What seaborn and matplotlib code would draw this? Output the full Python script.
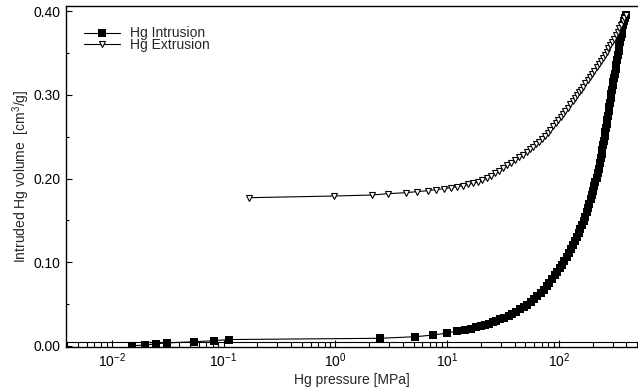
import matplotlib
matplotlib.use("Agg")
import matplotlib.pyplot as plt
from matplotlib.ticker import MultipleLocator, FormatStrFormatter, LogLocator
import seaborn as sns

# Mercury porosimetry: intrusion branch (pressure in MPa, volume in cm3/g)
intrusion_pressure = [
    0.0153, 0.0199, 0.0251, 0.0311, 0.0547, 0.0814, 0.1125,
    2.49, 5.2, 7.5, 9.93, 12.1, 14.3, 16.4,
    18.2, 20.0, 21.8, 23.6, 25.5, 27.4, 29.8, 32.4, 35.3, 38.2,
    41.3, 44.7, 48.3, 52.0, 55.7, 59.7, 64.0, 68.5, 73.3, 77.4,
    81.7, 86.3, 91.0, 96.2, 101.4, 106.2, 111.2, 116.4, 121.9, 127.6,
    133.7, 138.7, 143.9, 149.3, 154.9, 160.7, 166.7, 171.4, 176.2, 181.1,
    186.2, 191.4, 196.8, 201.4, 206.1, 210.9, 215.8, 220.8, 225.9, 231.7,
    235.5, 239.3, 243.2, 247.2, 251.2, 255.9, 259.4, 263.0, 266.7, 270.4,
    274.2, 278.0, 281.8, 285.8, 289.7, 293.8, 297.8, 302.0, 305.5, 309.0,
    314.1, 319.2, 324.3, 329.6, 335.0, 340.4, 345.9, 351.6, 357.3, 361.4,
    368.1, 375.0, 381.9, 389.0, 395.0,
]
intrusion_volume = [
    0.0004, 0.0011, 0.0027, 0.0037, 0.0051, 0.0063, 0.0077,
    0.0092, 0.0111, 0.0131, 0.0155, 0.0176, 0.0191, 0.0207,
    0.0228, 0.0243, 0.0256, 0.0268, 0.0283, 0.0301, 0.0320, 0.0340, 0.0360, 0.0382,
    0.0409, 0.0437, 0.0464, 0.0490, 0.0526, 0.0563, 0.0599, 0.0635, 0.0670, 0.0714,
    0.0757, 0.0801, 0.0843, 0.0888, 0.0930, 0.0973, 0.1020, 0.1067, 0.1113, 0.1160,
    0.1207, 0.1250, 0.1299, 0.1348, 0.1396, 0.1445, 0.1494, 0.1543, 0.1595, 0.1646,
    0.1698, 0.1750, 0.1801, 0.1852, 0.1905, 0.1958, 0.2011, 0.2064, 0.2117, 0.2191,
    0.2242, 0.2293, 0.2345, 0.2396, 0.2447, 0.2508, 0.2556, 0.2604, 0.2652, 0.2700,
    0.2752, 0.2803, 0.2855, 0.2906, 0.2958, 0.3010, 0.3061, 0.3113, 0.3155, 0.3195,
    0.3250, 0.3305, 0.3361, 0.3416, 0.3471, 0.3526, 0.3581, 0.3636, 0.3691, 0.3730,
    0.3780, 0.3831, 0.3881, 0.3920, 0.3950,
]

# Extrusion branch
extrusion_pressure = [
    0.170, 0.966, 2.13, 2.94, 4.30, 5.31, 6.70, 7.86, 9.33, 10.7,
    12.3, 13.8, 15.4, 17.1, 18.8, 20.6, 22.5, 24.4, 26.5, 28.8,
    31.3, 34.0, 37.0, 40.2, 43.7, 47.4, 52.0, 55.3, 58.9, 62.7,
    66.7, 70.8, 74.8, 79.1, 83.6, 88.3, 93.3, 98.6, 103.5, 108.6,
    114.0, 119.7, 125.6, 131.8, 138.4, 145.2, 150.7, 156.3, 163.7, 171.4,
    179.5, 187.9, 196.8, 206.1, 215.8, 225.9, 236.0, 245.5, 255.3, 265.5,
    276.1, 287.1, 298.5, 310.5, 321.4, 332.7, 344.4, 356.5, 369.0, 382.0,
    395.0,
]
extrusion_volume = [
    0.1771, 0.1791, 0.1803, 0.1819, 0.1831, 0.1843, 0.1855, 0.1867, 0.1879, 0.1891,
    0.1903, 0.1915, 0.1931, 0.1943, 0.1958, 0.1979, 0.2002, 0.2033, 0.2064, 0.2095,
    0.2126, 0.2157, 0.2188, 0.2220, 0.2252, 0.2284, 0.2320, 0.2350, 0.2380, 0.2410,
    0.2441, 0.2470, 0.2508, 0.2546, 0.2584, 0.2622, 0.2660, 0.2698, 0.2730, 0.2769,
    0.2807, 0.2846, 0.2885, 0.2924, 0.2962, 0.3001, 0.3030, 0.3060, 0.3098, 0.3136,
    0.3174, 0.3212, 0.3250, 0.3288, 0.3326, 0.3364, 0.3400, 0.3439, 0.3477, 0.3516,
    0.3554, 0.3593, 0.3631, 0.3670, 0.3711, 0.3753, 0.3794, 0.3836, 0.3877, 0.3919,
    0.3950,
]

series_labels = ["Hg Intrusion", "Hg Extrusion"]
x_label = "Hg pressure [MPa]"
y_label = "Intruded Hg volume  [cm$^3$/g]"

sns.set_style("ticks")
plt.rcParams["font.family"] = ["Liberation Sans", "DejaVu Sans"]
plt.rcParams["font.size"] = 10
plt.rcParams["mathtext.fontset"] = "custom"
plt.rcParams["mathtext.rm"] = "Liberation Sans"
plt.rcParams["mathtext.it"] = "Liberation Sans:italic"
plt.rcParams["mathtext.default"] = "regular"

fig = plt.figure(figsize=(6.38, 3.87), dpi=100)
ax = fig.add_axes([66 / 638, 40 / 387, 572 / 638, 341 / 387])

sns.lineplot(x=intrusion_pressure, y=intrusion_volume, ax=ax, sort=False,
             estimator=None, color="black", linewidth=0.8, marker="s",
             markersize=5.6, markeredgewidth=0, label=series_labels[0])
sns.lineplot(x=extrusion_pressure, y=extrusion_volume, ax=ax, sort=False,
             estimator=None, color="black", linewidth=0.8, marker="v",
             markersize=5, markerfacecolor="white", markeredgecolor="black",
             markeredgewidth=0.8, label=series_labels[1])

ax.set_xscale("log")
ax.set_xlim(10 ** -2.408, 10 ** 2.705)
ax.set_ylim(-0.0012, 0.406)

ax.yaxis.set_major_locator(MultipleLocator(0.1))
ax.yaxis.set_minor_locator(MultipleLocator(0.05))
ax.yaxis.set_major_formatter(FormatStrFormatter("%.2f"))
ax.xaxis.set_major_locator(LogLocator(base=10, numticks=20))
ax.xaxis.set_minor_locator(LogLocator(base=10, subs=range(2, 10), numticks=20))

ax.tick_params(axis="both", which="both", direction="in", colors="black",
               labelsize=10, width=0.8)
ax.tick_params(axis="x", which="major", length=5.3, pad=3)
ax.tick_params(axis="x", which="minor", length=3.6)
ax.tick_params(axis="y", which="major", length=4.2, pad=4)
ax.tick_params(axis="y", which="minor", length=2.4)
ax.tick_params(top=False, right=False, which="both")

for side in ["left", "bottom", "top"]:
    ax.spines[side].set_linewidth(1.0)
    ax.spines[side].set_color("black")
ax.spines["right"].set_visible(False)

# thin rail along the tops of the minor ticks on the pressure axis
ax.plot([0, 1], [0.0147, 0.0147], transform=ax.transAxes, color="black",
        linewidth=0.8, clip_on=False)

ax.set_xlabel(x_label, fontsize=10, labelpad=2)
ax.set_ylabel(y_label, fontsize=10, labelpad=1)

ax.legend(loc="upper left", bbox_to_anchor=(0.0315, 0.940), frameon=False,
          borderpad=0, borderaxespad=0, handlelength=2.6, handletextpad=0.7,
          labelspacing=-0.21, fontsize=10)

fig.savefig("out.png", dpi=100)
